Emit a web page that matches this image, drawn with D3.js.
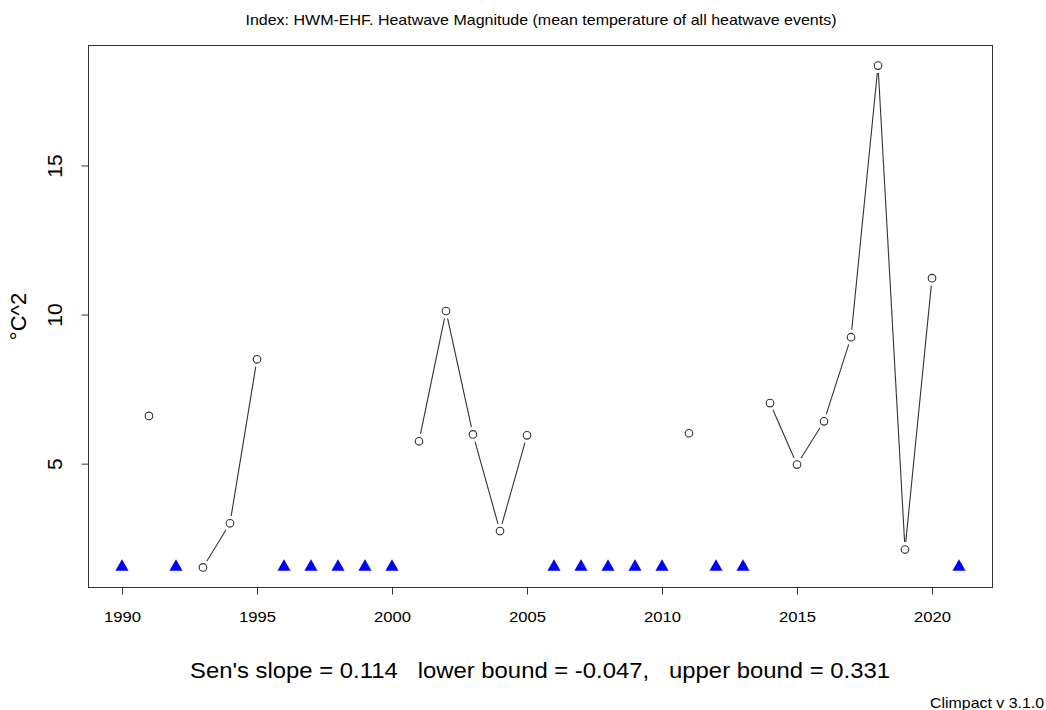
<!DOCTYPE html>
<html><head><meta charset="utf-8">
<script src="https://cdn.jsdelivr.net/npm/d3@7"></script>
<style>body{margin:0;background:#fff;} svg{display:block;}</style>
</head><body><svg id="c" width="1046" height="710"></svg>
<script>
const years = d3.range(1990, 2022);
const values = [null, 6.6, null, 1.52, 3.0, 8.5, null, null, null, null, null,
  5.75, 10.12, 5.98, 2.74, 5.95, null, null, null, null, null,
  6.02, null, null, 7.03, 4.97, 6.42, 9.24, 18.35, 2.12, 11.22, null];
const xTicks = [1990, 1995, 2000, 2005, 2010, 2015, 2020];
const yTicks = [5, 10, 15];
const titleText = "Index: HWM-EHF. Heatwave Magnitude (mean temperature of all heatwave events)";
const yLabel = "°C^2";
const slopeText = "Sen's slope = 0.114   lower bound = -0.047,   upper bound = 0.331";
const creditText = "Climpact v 3.1.0";

const svg = d3.select("#c");
const L = 88.5, R = 992.5, T = 45.5, B = 587.5;
const font = "Liberation Sans, Arial, Helvetica, sans-serif";

const data = years.map((y, i) => ({year: y, v: values[i]}));
const present = data.filter(d => d.v != null);
const vmin = d3.min(present, d => d.v), vmax = d3.max(present, d => d.v);
const xr = [d3.min(years), d3.max(years)];
const xpad = (xr[1] - xr[0]) * 0.04, ypad = (vmax - vmin) * 0.04;
const x = d3.scaleLinear().domain([xr[0] - xpad, xr[1] + xpad]).range([L, R]);
const y = d3.scaleLinear().domain([vmin - ypad, vmax + ypad]).range([B, T]);

// title
svg.append("text").attr("x", 541).attr("y", 25).attr("text-anchor", "middle")
  .attr("font-family", font).attr("font-size", 15).attr("fill", "#000")
  .attr("textLength", 591).attr("lengthAdjust", "spacingAndGlyphs").text(titleText);

// box
svg.append("rect").attr("x", L).attr("y", T).attr("width", R - L).attr("height", B - T)
  .attr("fill", "none").attr("stroke", "#333").attr("stroke-width", 1);

// x axis
const xa = svg.append("g").attr("transform", `translate(0,${B})`)
  .call(d3.axisBottom(x).tickValues(xTicks).tickFormat(d3.format("d")).tickSize(7).tickSizeOuter(0));
xa.select(".domain").attr("d", `M${x(xTicks[0])},0H${x(xTicks[xTicks.length-1])}`).attr("stroke", "#333");
xa.selectAll(".tick line").attr("stroke", "#333");
xa.selectAll(".tick text").attr("dy", null).attr("y", 34)
  .attr("font-family", font).attr("font-size", 15.5).attr("fill", "#000")
  .attr("textLength", 37).attr("lengthAdjust", "spacingAndGlyphs");

// y axis
const ya = svg.append("g").attr("transform", `translate(${L},0)`)
  .call(d3.axisLeft(y).tickValues(yTicks).tickSize(7).tickSizeOuter(0));
ya.select(".domain").attr("d", `M0,${y(yTicks[0])}V${y(yTicks[yTicks.length-1])}`).attr("stroke", "#333");
ya.selectAll(".tick line").attr("stroke", "#333");
ya.selectAll(".tick text").attr("x", null).attr("dy", null)
  .attr("transform", "translate(-32,0) rotate(-90)")
  .attr("text-anchor", "middle").attr("dominant-baseline", "middle")
  .attr("font-family", font).attr("font-size", 21).attr("fill", "#000");

svg.append("text").attr("transform", `translate(26,${(T + B) / 2}) rotate(-90)`)
  .attr("text-anchor", "middle").attr("font-family", font).attr("font-size", 22).attr("fill", "#000").text(yLabel);

// type "b" lines with gaps
const gap = 7.5;
const segs = [];
for (let i = 0; i < data.length - 1; i++) {
  const a = data[i], b = data[i + 1];
  if (a.v == null || b.v == null) continue;
  const x1 = x(a.year), y1 = y(a.v), x2 = x(b.year), y2 = y(b.v);
  const len = Math.hypot(x2 - x1, y2 - y1);
  if (len <= 2 * gap) continue;
  const ux = (x2 - x1) / len, uy = (y2 - y1) / len;
  segs.push([x1 + ux * gap, y1 + uy * gap, x2 - ux * gap, y2 - uy * gap]);
}
svg.append("g").selectAll("line").data(segs).join("line")
  .attr("x1", d => d[0]).attr("y1", d => d[1]).attr("x2", d => d[2]).attr("y2", d => d[3])
  .attr("stroke", "#333").attr("stroke-width", 1.1);

svg.append("g").selectAll("circle").data(present).join("circle")
  .attr("cx", d => x(d.year)).attr("cy", d => y(d.v)).attr("r", 3.8)
  .attr("fill", "none").attr("stroke", "#333").attr("stroke-width", 1.1);

// missing markers
const missing = data.filter(d => d.v == null);
const tri = d3.symbol().type(d3.symbolTriangle).size(75);
svg.append("g").selectAll("path").data(missing).join("path")
  .attr("transform", d => `translate(${x(d.year)},${y(vmin) - 0.5})`)
  .attr("d", tri).attr("fill", "#0000ff");

svg.append("text").attr("x", 540).attr("y", 678).attr("text-anchor", "middle")
  .attr("font-family", font).attr("font-size", 22.5).attr("fill", "#000")
  .attr("textLength", 700).attr("lengthAdjust", "spacingAndGlyphs")
  .text(slopeText.replace(/ /g, "\u00a0"));
svg.append("text").attr("x", 1044).attr("y", 708).attr("text-anchor", "end")
  .attr("font-family", font).attr("font-size", 15).attr("fill", "#000")
  .attr("textLength", 114).attr("lengthAdjust", "spacingAndGlyphs").text(creditText);
</script></body></html>
